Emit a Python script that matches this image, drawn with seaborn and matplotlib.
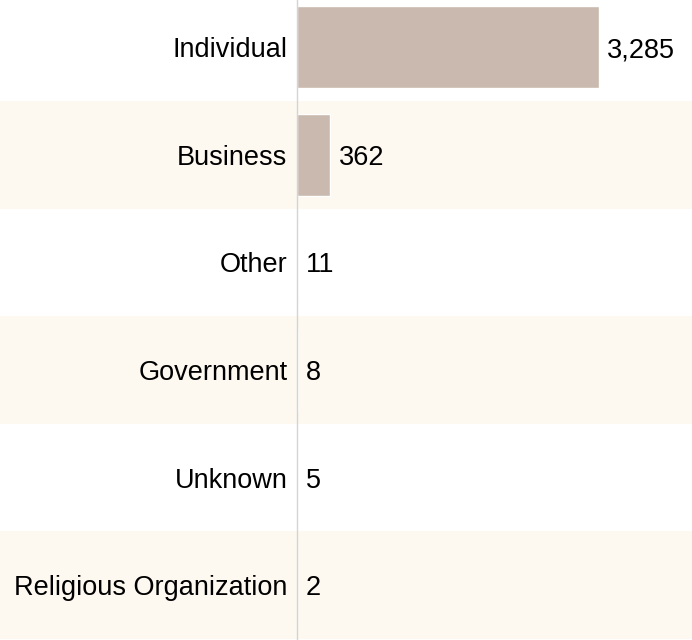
import matplotlib
matplotlib.use("Agg")
import matplotlib.pyplot as plt
import seaborn as sns
import pandas as pd

categories = ["Individual", "Business", "Other", "Government", "Unknown", "Religious Organization"]
counts = [3285, 362, 11, 8, 5, 2]

df = pd.DataFrame({"category": categories, "count": counts})

sns.set_theme(style="white")
plt.rcParams["font.family"] = ["Liberation Sans", "DejaVu Sans"]

fig = plt.figure(figsize=(6.92, 6.40), dpi=100)
ax = fig.add_axes([297 / 692, 0, (692 - 297) / 692, 1])

bar_color = "#c9b9ae"
band_color = "#fdf8f0"

# alternating background bands
for i in range(len(categories)):
    if i % 2 == 1:
        ax.axhspan(i - 0.5, i + 0.5, xmin=-297 / 395, xmax=1, color=band_color,
                   zorder=0, clip_on=False, lw=0)

sns.barplot(data=df, y="category", x="count", orient="h", color=bar_color,
            width=0.76, ax=ax, zorder=2, saturation=1)

ax.set_xlim(0, 4297)
ax.set_ylim(5.51, -0.44)
ax.set_xlabel("")
ax.set_ylabel("")
ax.set_xticks([])
ax.tick_params(axis="y", length=0, pad=7, labelsize=19.5, labelcolor="#000000")
for s in ["top", "right", "bottom"]:
    ax.spines[s].set_visible(False)
ax.spines["left"].set_color("#d4d4d4")
ax.spines["left"].set_linewidth(1)
ax.patch.set_alpha(0)

for i, v in enumerate(counts):
    ax.annotate(f"{v:,}", xy=(v, i), xytext=(6, 0), textcoords="offset points",
                va="center_baseline", ha="left", fontsize=19.5, color="#000000")

fig.savefig("out.png", dpi=100, facecolor="white")
